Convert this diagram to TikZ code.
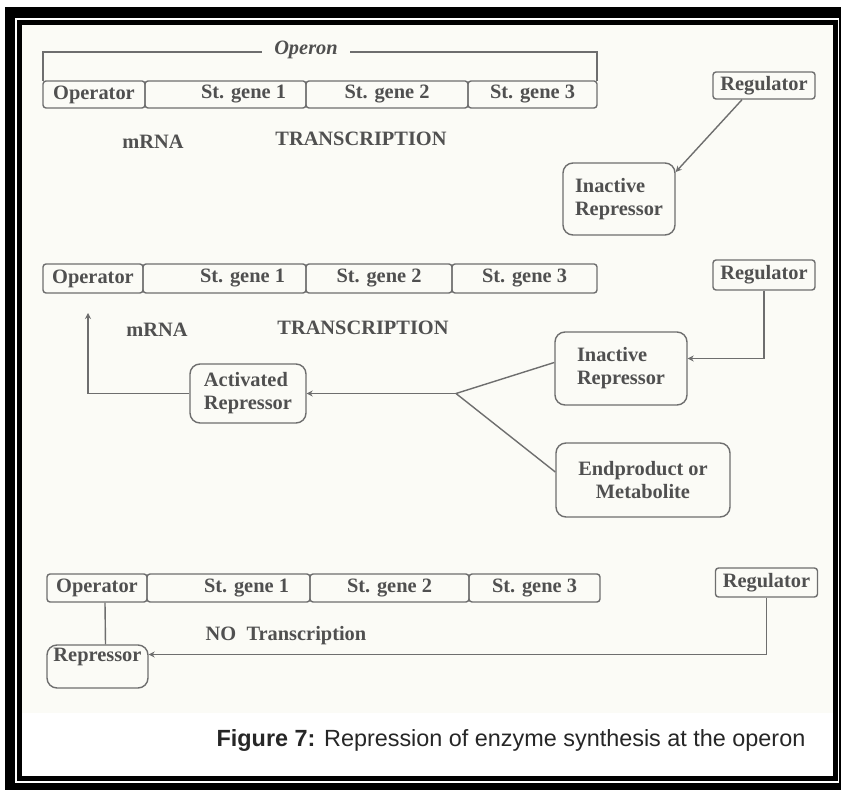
\documentclass[tikz,border=0pt]{standalone}
\usepackage{fontspec}
\setmainfont{Liberation Serif}
\newfontfamily\capfont{Liberation Sans}
\usetikzlibrary{arrows.meta}
\definecolor{ink}{HTML}{505050}
\definecolor{edge}{HTML}{6E6E6E}
\definecolor{paper}{HTML}{FBFBF6}

\begin{document}
\begin{tikzpicture}[x=0.5pt,y=-0.5pt,
  font=\fontsize{10.2}{11.5}\selectfont\bfseries,
  box/.style={draw=edge,line width=0.7pt,rounded corners=1.5pt,text=ink,inner sep=1pt},
  gene/.style={box,minimum height=13.5pt},
  reg/.style={box,minimum width=51pt,minimum height=13.5pt},
  rep/.style={box,rounded corners=5pt,align=left},
  lbl/.style={text=ink},
  arr/.style={-{Stealth[length=3pt,width=3pt]},draw=edge,line width=0.7pt},
  link/.style={draw=edge,line width=0.7pt}]

% page and double frame
\useasboundingbox (0,0) rectangle (841,790);
\fill[white] (0,0) rectangle (841,790);
\fill[black] (5,7) rectangle (841,790);
\fill[white] (15,18) rectangle (839,783);
\fill[black] (17,20) rectangle (838,781);
\fill[white] (22,25) rectangle (833,776);
\fill[paper] (22,25) rectangle (833,713);

% operon bracket
\draw[link] (43,81) -- (43,52) -- (597,52) -- (597,81);
\node[lbl,fill=paper,font=\fontsize{10.2}{11}\selectfont\bfseries\itshape,inner xsep=6pt] (operon) at (306,50) {Operon};

% first row: free operator
\node[gene,minimum width=51pt] (op1) at (94,94.5) {Operator};
\node[gene,minimum width=80.5pt] (g11) at (225.5,94.5) {\hspace*{18pt}St. gene 1};
\node[gene,minimum width=81pt] (g12) at (387,94.5) {St. gene 2};
\node[gene,minimum width=64.5pt] (g13) at (532.5,94.5) {St. gene 3};
\node[lbl] (mrna1) at (153,142) {mRNA};
\node[lbl] (tr1) at (361,139) {TRANSCRIPTION};
\node[reg] (reg1) at (764,85.5) {Regulator};
\node[rep,minimum width=56pt,minimum height=36pt] (inr1) at (619,199) {Inactive\\Repressor};
\draw[arr] ([xshift=-11pt]reg1.south) -- ([yshift=13.5pt]inr1.east);

% second row: endproduct activates the repressor
\node[gene,minimum width=50pt,minimum height=14.5pt] (op2) at (93,278.5) {Operator};
\node[gene,minimum width=81.5pt,minimum height=14.5pt] (g21) at (224.5,278.5) {\hspace*{18pt}St. gene 1};
\node[gene,minimum width=73pt,minimum height=14.5pt] (g22) at (379,278.5) {St. gene 2};
\node[gene,minimum width=72.5pt,minimum height=14.5pt] (g23) at (524.5,278.5) {St. gene 3};
\node[lbl] (mrna2) at (157,330) {mRNA};
\node[lbl] (tr2) at (363,328) {TRANSCRIPTION};
\node[reg,minimum height=15pt] (reg2) at (764,275) {Regulator};
\node[rep,minimum width=66pt,minimum height=36.5pt] (inr2) at (621,368.5) {Inactive\\Repressor};
\node[rep,minimum width=87pt,minimum height=37pt,align=center] (endp) at (643,480) {Endproduct or\\Metabolite};
\node[rep,minimum width=58pt,minimum height=29.5pt] (act) at (248,393.5) {Activated\\Repressor};
\draw[arr] (reg2.south) |- ([yshift=5pt]inr2.east);
\coordinate (fork) at (456,393.5);
\draw[link] ([yshift=3pt]inr2.west) -- (fork) -- ([yshift=4pt]endp.west);
\draw[arr] (fork) -- (act.east);
\coordinate (opin) at (88,313);
\draw[arr] (act.west) -| (opin);

% third row: repressor sits on the operator
\node[gene,minimum width=50pt,minimum height=14pt] (op3) at (97,588) {Operator};
\node[gene,minimum width=81.5pt,minimum height=14pt] (g31) at (228.5,588) {\hspace*{18pt}St. gene 1};
\node[gene,minimum width=79.5pt,minimum height=14pt] (g32) at (389.5,588) {St. gene 2};
\node[gene,minimum width=65.5pt,minimum height=14pt] (g33) at (534.5,588) {St. gene 3};
\node[lbl] (notr) at (286,636) {NO\ \ Transcription};
\node[reg,minimum height=14.5pt] (reg3) at (766.5,582.5) {Regulator};
\node[rep,minimum width=50.5pt,minimum height=21.5pt] (rep3) at (97.5,666.5) {Repressor\\\mbox{}};
\draw[link] ([xshift=4pt]op3.south) -- ([xshift=4pt]rep3.north);
\draw[arr] (reg3.south) |- ([yshift=6pt]rep3.east);

\node[font=\capfont\fontsize{11.7}{13}\selectfont,text=black!85] (cap) at (511,741)
  {\textbf{Figure 7:} Repression of enzyme synthesis at the operon};
\end{tikzpicture}
\end{document}
